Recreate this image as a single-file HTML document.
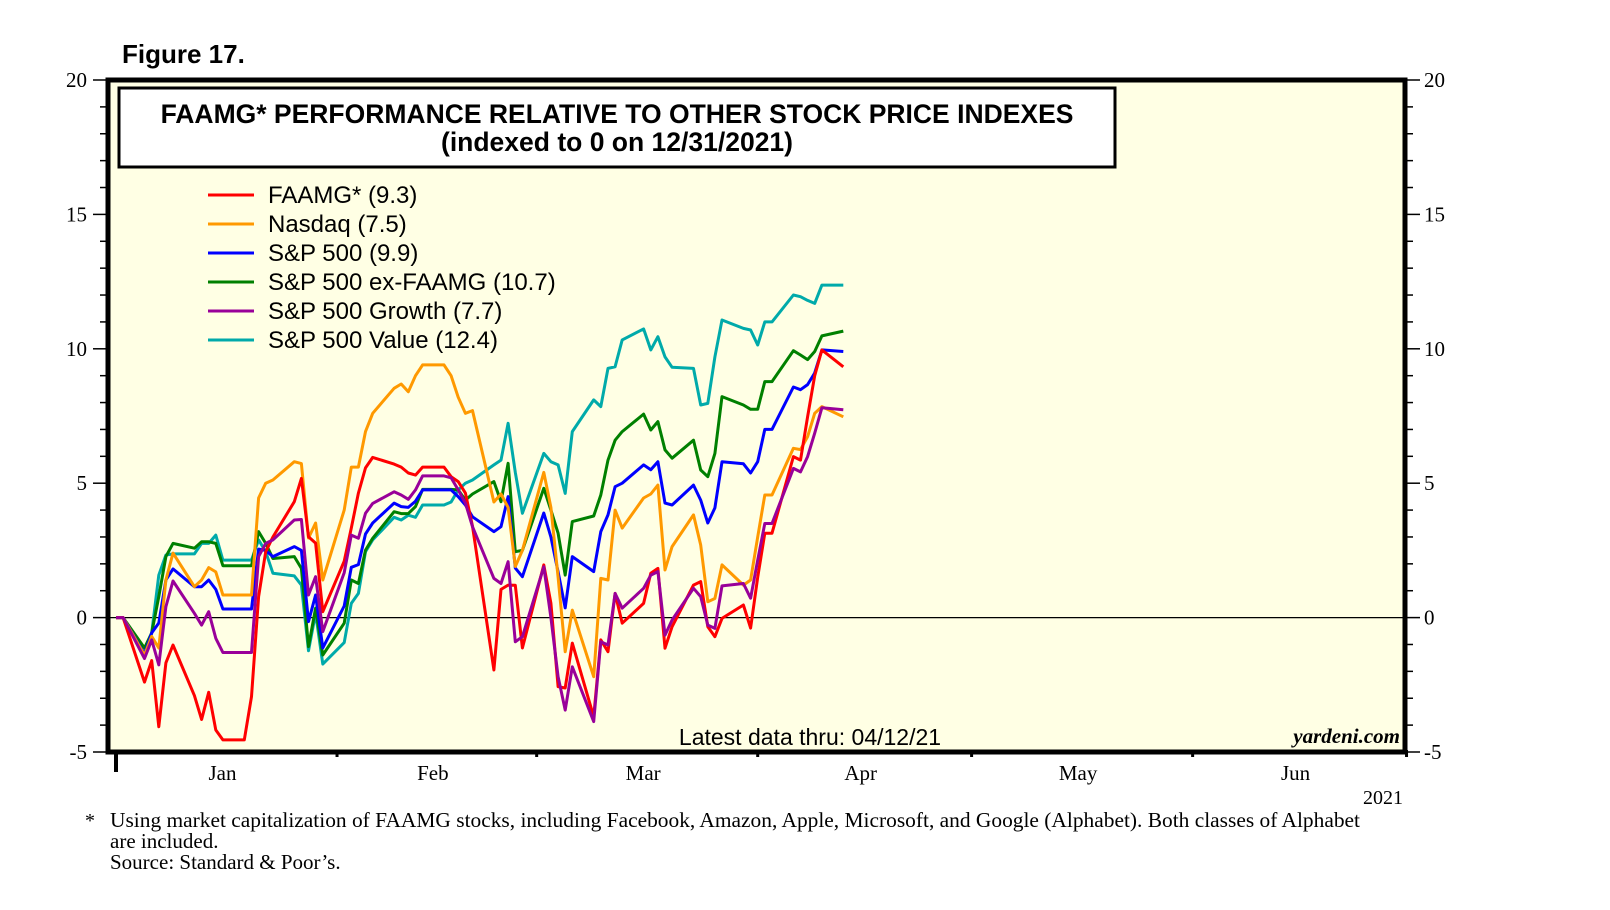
<!DOCTYPE html>
<html><head><meta charset="utf-8"><title>FAAMG Performance</title>
<style>
html,body{margin:0;padding:0;background:#fff;}
svg{display:block;}
.sans{font-family:"Liberation Sans",Arial,sans-serif;}
.serif{font-family:"Liberation Serif","Times New Roman",serif;}
</style></head>
<body>
<svg id="chart" width="1610" height="910" viewBox="0 0 1610 910" xmlns="http://www.w3.org/2000/svg">
  <text x="122" y="63" class="sans" font-size="26" font-weight="bold">Figure 17.</text>
  <rect x="108" y="80" width="1297" height="672" fill="#ffffe4"/>
  <g id="ticks"></g>
  <line x1="108" y1="617.6" x2="1405" y2="617.6" stroke="#000" stroke-width="1.2"/>
  <g id="series"></g>
  <rect x="108" y="80" width="1297" height="672" fill="none" stroke="#000" stroke-width="5"/>
  <rect x="119" y="88" width="996" height="79" fill="#fff" stroke="#000" stroke-width="3"/>
  <text x="617" y="123" text-anchor="middle" class="sans" font-size="26.5" font-weight="bold">FAAMG* PERFORMANCE RELATIVE TO OTHER STOCK PRICE INDEXES</text>
  <text x="617" y="151" text-anchor="middle" class="sans" font-size="26.5" font-weight="bold">(indexed to 0 on 12/31/2021)</text>
  <g id="legend"></g>
  <text x="810" y="745" text-anchor="middle" class="sans" font-size="23">Latest data thru: 04/12/21</text>
  <text x="1400" y="743" text-anchor="end" class="serif" font-size="21" font-style="italic" font-weight="bold">yardeni.com</text>
  <text x="1403" y="804" text-anchor="end" class="serif" font-size="20">2021</text>
  <text x="85" y="827" class="serif" font-size="20">*</text>
  <text x="110" y="827" class="serif" font-size="21" textLength="1250" lengthAdjust="spacingAndGlyphs">Using market capitalization of FAAMG stocks, including Facebook, Amazon, Apple, Microsoft, and Google (Alphabet). Both classes of Alphabet</text>
  <text x="110" y="848" class="serif" font-size="21">are included.</text>
  <text x="110" y="869" class="serif" font-size="21">Source: Standard &amp; Poor’s.</text>
</svg>
<script>
const dates = ["12-31","01-01","01-04","01-05","01-06","01-07","01-08","01-11","01-12","01-13","01-14","01-15","01-18","01-19","01-20","01-21","01-22","01-25","01-26","01-27","01-28","01-29",
"02-01","02-02","02-03","02-04","02-05","02-08","02-09","02-10","02-11","02-12","02-15","02-16","02-17","02-18","02-19","02-22","02-23","02-24","02-25","02-26",
"03-01","03-02","03-03","03-04","03-05","03-08","03-09","03-10","03-11","03-12","03-15","03-16","03-17","03-18","03-19","03-22","03-23","03-24","03-25","03-26","03-29","03-30","03-31",
"04-01","04-02","04-05","04-06","04-07","04-08","04-09","04-12"];
const faamg = [0,0,-2.4,-1.6,-4.06,-1.68,-1.02,-2.9,-3.79,-2.78,-4.18,-4.55,-4.55,-2.94,0.78,2.45,3.0,4.31,5.18,3.01,2.77,0.22,
2.1,3.33,4.63,5.57,5.96,5.71,5.6,5.38,5.3,5.6,5.6,5.24,5.06,4.63,3.4,-1.95,1.05,1.21,1.2,-1.13,
1.96,0.54,-2.57,-2.62,-0.95,-3.69,-0.83,-1.27,0.9,-0.21,0.53,1.65,1.83,-1.14,-0.34,1.21,1.34,-0.34,-0.71,-0.03,0.47,-0.39,1.5,
3.14,3.14,5.99,5.86,7.47,9.0,9.96,9.33];
const nasdaq = [0,0,-1.4,-0.7,-1.13,1.4,2.4,1.15,1.4,1.86,1.7,0.84,0.84,0.84,4.45,5.0,5.12,5.8,5.73,2.96,3.52,1.4,
4.0,5.6,5.6,6.92,7.6,8.53,8.69,8.4,9.0,9.4,9.4,9.0,8.2,7.6,7.7,4.3,4.6,4.1,1.9,2.5,
5.4,4.1,1.5,-1.27,0.28,-2.2,1.46,1.4,4.0,3.33,4.45,4.6,4.93,1.77,2.64,3.82,2.7,0.59,0.71,1.96,1.21,1.4,3.0,
4.56,4.56,6.3,6.25,6.73,7.6,7.85,7.47];
const sp500 = [0,0,-1.35,-0.57,-0.2,1.4,1.81,1.15,1.15,1.4,1.05,0.32,0.32,0.32,2.55,2.5,2.27,2.64,2.5,-0.15,0.84,-1.13,
0.43,1.87,1.97,3.11,3.52,4.26,4.13,4.1,4.33,4.75,4.75,4.75,4.5,4.19,3.75,3.2,3.38,4.5,1.84,1.52,
3.89,3.0,1.7,0.36,2.27,1.71,3.2,3.82,4.87,5.0,5.68,5.5,5.8,4.26,4.19,4.93,4.37,3.52,4.08,5.8,5.72,5.38,5.8,
7.0,7.0,8.58,8.48,8.67,9.1,9.96,9.9];
const exFaamg = [0,0,-1.13,-0.57,0.78,2.27,2.76,2.58,2.82,2.82,2.76,1.93,1.93,1.93,3.2,2.76,2.2,2.27,1.83,-1.08,0.35,-1.39,
-0.21,1.4,1.27,2.51,2.95,3.94,3.87,3.87,4.13,4.77,4.77,4.77,4.75,4.37,4.6,5.06,4.31,5.74,2.45,2.5,
4.81,4.0,3.14,1.58,3.57,3.78,4.56,5.86,6.6,6.92,7.57,6.98,7.29,6.24,5.93,6.6,5.49,5.24,6.11,8.22,7.91,7.75,7.75,
8.78,8.78,9.93,9.77,9.6,9.9,10.48,10.66];
const growth = [0,0,-1.52,-0.83,-1.76,0.41,1.36,0.16,-0.28,0.22,-0.77,-1.3,-1.3,-1.3,2.27,2.76,2.89,3.63,3.65,0.84,1.52,-0.52,
1.67,3.07,2.95,3.88,4.25,4.68,4.56,4.4,4.75,5.27,5.27,5.2,4.75,4.26,3.38,1.46,1.27,2.08,-0.9,-0.71,
1.89,0.0,-2.2,-3.44,-1.83,-3.87,-0.9,-1.02,0.9,0.35,1.09,1.58,1.71,-0.65,-0.09,1.09,0.78,-0.28,-0.4,1.18,1.27,0.72,2.14,
3.5,3.5,5.55,5.42,5.99,6.86,7.81,7.73];
const value = [0,0,-1.45,-0.57,1.58,2.33,2.37,2.37,2.76,2.76,3.07,2.14,2.14,2.14,2.89,2.45,1.65,1.55,1.21,-1.23,0.16,-1.73,
-0.93,0.53,0.9,2.45,2.89,3.73,3.63,3.81,3.73,4.19,4.19,4.3,4.75,5.0,5.12,5.68,5.86,7.23,5.4,3.88,
6.11,5.8,5.68,4.62,6.92,8.1,7.85,9.27,9.33,10.33,10.74,9.96,10.45,9.7,9.31,9.27,7.91,7.97,9.7,11.07,10.76,10.7,10.14,
11.0,11.0,12.0,11.94,11.8,11.69,12.37,12.37];
const yTicks = [-5,0,5,10,15,20];
const monthLabels = ["Jan","Feb","Mar","Apr","May","Jun"];
const monthStarts = [0,31,59,90,120,151,181];

const NS = "http://www.w3.org/2000/svg";
const X0 = 116, DAY = 7.13, Y0 = 617.6, UNIT = 26.88;
const cum = [0,31,59,90,120,151,181];
function doy(s){ if(s==="12-31") return 0; const m=+s.slice(0,2), d=+s.slice(3); return cum[m-1]+d; }
function xs(s){ return X0 + doy(s)*DAY; }
function ys(v){ return Y0 - v*UNIT; }
function mk(tag, attrs, parent){ const e=document.createElementNS(NS,tag); for(const k in attrs) e.setAttribute(k,attrs[k]); parent.appendChild(e); return e; }

const ticks = document.getElementById('ticks');
for(let v=-5; v<=20; v++){
  const major = v%5===0;
  const y = ys(v);
  const tl = mk('line',{x1: major?93:100, x2:108, y1:y, y2:y, stroke:'#000','stroke-width':1.5}, ticks);
  
  
  const tr = mk('line',{x1:1405, x2: major?1420:1413, y1:y, y2:y, stroke:'#000','stroke-width':1.5}, ticks);
  
  
}
yTicks.forEach(v=>{
  const l = mk('text',{x:87,y:ys(v)+7,'text-anchor':'end','font-size':21,class:'serif'},ticks);
  l.textContent = v;
  
  
  const r = mk('text',{x:1424,y:ys(v)+7,'font-size':21,class:'serif'},ticks);
  r.textContent = v;
  
  
});
monthStarts.forEach((d,i)=>{
  const x = X0 + d*DAY;
  const t = mk('line',{x1:x,x2:x,y1:750,y2: i===0?772:757,stroke:'#000','stroke-width': i===0?4:3},ticks);
  
  
  if(i<monthLabels.length){
    const xm = X0 + (d + (monthStarts[i+1]-d)/2)*DAY - 4;
    const lb = mk('text',{x:xm,y:780,'text-anchor':'middle','font-size':21,class:'serif'},ticks);
    lb.textContent = monthLabels[i];
    
    
  }
});

const seriesDefs = [
  {name:'FAAMG* (9.3)', data:faamg, color:'#ff0000', id:'faamg-line'},
  {name:'Nasdaq (7.5)', data:nasdaq, color:'#ff9900', id:'nasdaq-line'},
  {name:'S&P 500 (9.9)', data:sp500, color:'#0000ff', id:'sp500-line'},
  {name:'S&P 500 ex-FAAMG (10.7)', data:exFaamg, color:'#008000', id:'sp500-ex-faamg-line'},
  {name:'S&P 500 Growth (7.7)', data:growth, color:'#990099', id:'sp500-growth-line'},
  {name:'S&P 500 Value (12.4)', data:value, color:'#00aaaa', id:'sp500-value-line'}
];
const sg = document.getElementById('series');
const drawOrder = [5,3,2,1,0,4];
drawOrder.forEach(i=>{
  const s = seriesDefs[i];
  const pts = s.data.map((v,j)=> xs(dates[j]).toFixed(1)+','+ys(v).toFixed(1)).join(' ');
  const p = mk('polyline',{points:pts,fill:'none',stroke:s.color,'stroke-width':3,'stroke-linejoin':'round'},sg);
  
  
});
const lg = document.getElementById('legend');
seriesDefs.forEach((s,i)=>{
  const y = 195 + i*29;
  const ln = mk('line',{x1:208,x2:254,y1:y,y2:y,stroke:s.color,'stroke-width':3},lg);
  
  
  const t = mk('text',{x:268,y:y+8,'font-size':24,class:'sans'},lg);
  t.textContent = s.name;
  
  
});
</script>
</body></html>
